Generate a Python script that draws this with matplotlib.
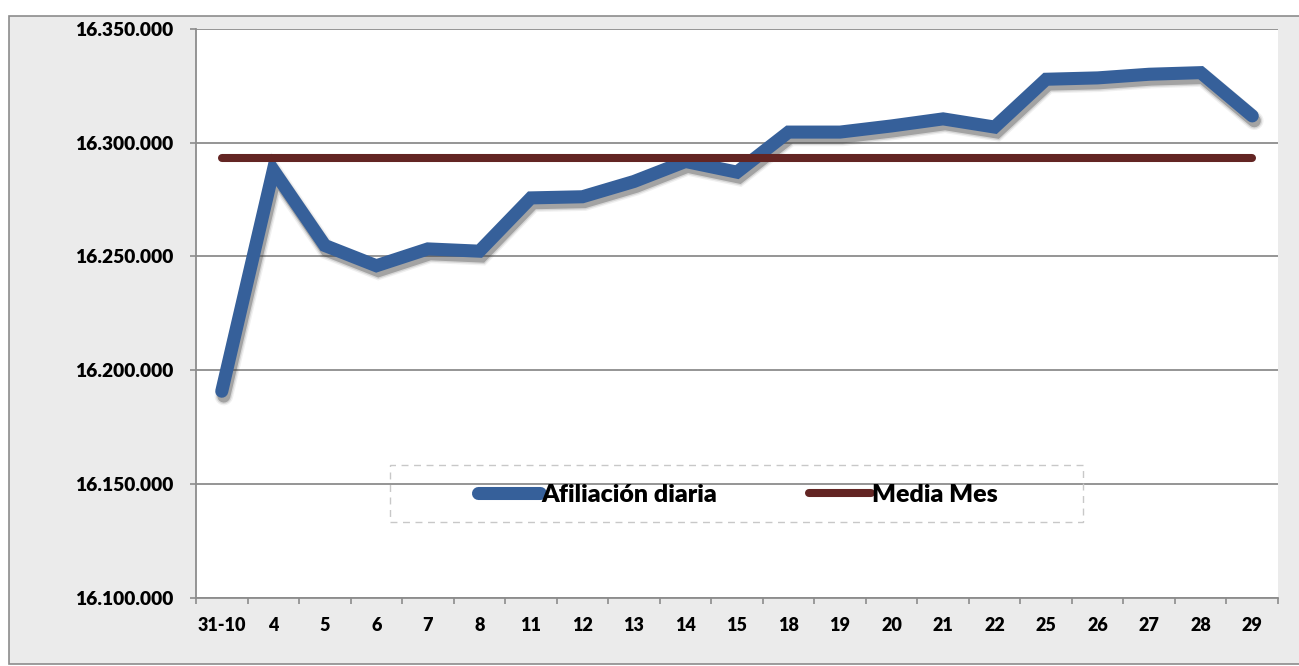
import matplotlib
matplotlib.use('Agg')
import matplotlib.pyplot as plt
import matplotlib.patheffects as pe
from matplotlib.patches import Rectangle
from matplotlib.ticker import FuncFormatter

plt.rcParams['font.family'] = ['Lato', 'DejaVu Sans']

dias = ['31-10', '4', '5', '6', '7', '8', '11', '12', '13', '14', '15',
        '18', '19', '20', '21', '22', '25', '26', '27', '28', '29']
afiliacion_diaria = [16190800, 16287900, 16254800, 16245900, 16253300, 16252300,
                     16275700, 16276200, 16282900, 16291700, 16287000, 16304600,
                     16304600, 16307300, 16310400, 16306800, 16327800, 16328400,
                     16330000, 16330700, 16311700]
media_mes = 16293400

azul = '#36609A'
granate = '#632523'
peso = 'heavy'

fig = plt.figure(figsize=(12.99, 6.66), dpi=100)
fig.patch.set_facecolor('white')
fig.patches.append(Rectangle((9 / 1299, 2 / 666), 1.0, 648 / 666, transform=fig.transFigure,
                             facecolor='#EBEBEB', edgecolor='#8C8C8C', lw=1.2, zorder=-1))

ax = fig.add_axes([196 / 1299, 68 / 666, 1082 / 1299, 569.3 / 666])
ax.set_zorder(2)
ax.set_facecolor('white')

# sombra difusa bajo la serie diaria
sombra = [pe.Stroke(offset=(1.5, -3.5), linewidth=9.4 + w, foreground='#444444', alpha=a)
          for w, a in [(4, 0.08), (2, 0.15), (0, 0.35)]]

x = list(range(len(dias)))
ax.plot(x, afiliacion_diaria, color=azul, lw=9.4, solid_capstyle='round',
        solid_joinstyle='miter', label='Afiliación diaria', zorder=3,
        path_effects=sombra + [pe.Normal()])
ax.plot(x, [media_mes] * len(dias), color=granate, lw=5.8, solid_capstyle='round',
        label='Media Mes', zorder=4)

ax.set_xlim(-0.5, len(dias) - 0.5)
ax.set_ylim(16100000, 16350000)
ax.set_yticks([16100000, 16150000, 16200000, 16250000, 16300000, 16350000])
ax.yaxis.set_major_formatter(FuncFormatter(lambda v, p: f'{v:,.0f}'.replace(',', '.')))
ax.grid(axis='y', color='#8C8C8C', lw=1.3, zorder=1)
ax.set_axisbelow(True)

ax.set_xticks(x)
ax.set_xticklabels(dias)
ax.set_xticks([i - 0.5 for i in range(len(dias) + 1)], minor=True)
ax.tick_params(axis='x', which='major', length=0, pad=14)
ax.tick_params(axis='x', which='minor', length=4, width=1.2, color='#8C8C8C', direction='out')
ax.tick_params(axis='y', length=4.5, width=1.2, color='#8C8C8C', pad=12)
for lab in ax.get_xticklabels():
    lab.set_fontweight(peso)
    lab.set_fontsize(13)
for lab in ax.get_yticklabels():
    lab.set_fontweight(peso)
    lab.set_fontsize(13.8)

for s in ['top', 'right']:
    ax.spines[s].set_visible(False)
for s in ['left', 'bottom']:
    ax.spines[s].set_color('#8C8C8C')
    ax.spines[s].set_linewidth(1.3)

# recuadro punteado de la leyenda
ax.add_patch(Rectangle((194 / 1082, 76 / 569.3), 693 / 1082, 57 / 569.3, transform=ax.transAxes,
                       fill=False, edgecolor='#C8C8C8', lw=1.0, ls=(0, (5, 4)), zorder=5))
leg = ax.legend(loc='center', bbox_to_anchor=(0.501, 0.181), ncol=2, frameon=False,
                handlelength=2.5, handletextpad=0.05, columnspacing=3.65,
                prop={'weight': peso, 'size': 18})
for h in leg.get_lines():
    h.set_path_effects([])

fig.savefig('out.png', dpi=100, facecolor=fig.get_facecolor())
